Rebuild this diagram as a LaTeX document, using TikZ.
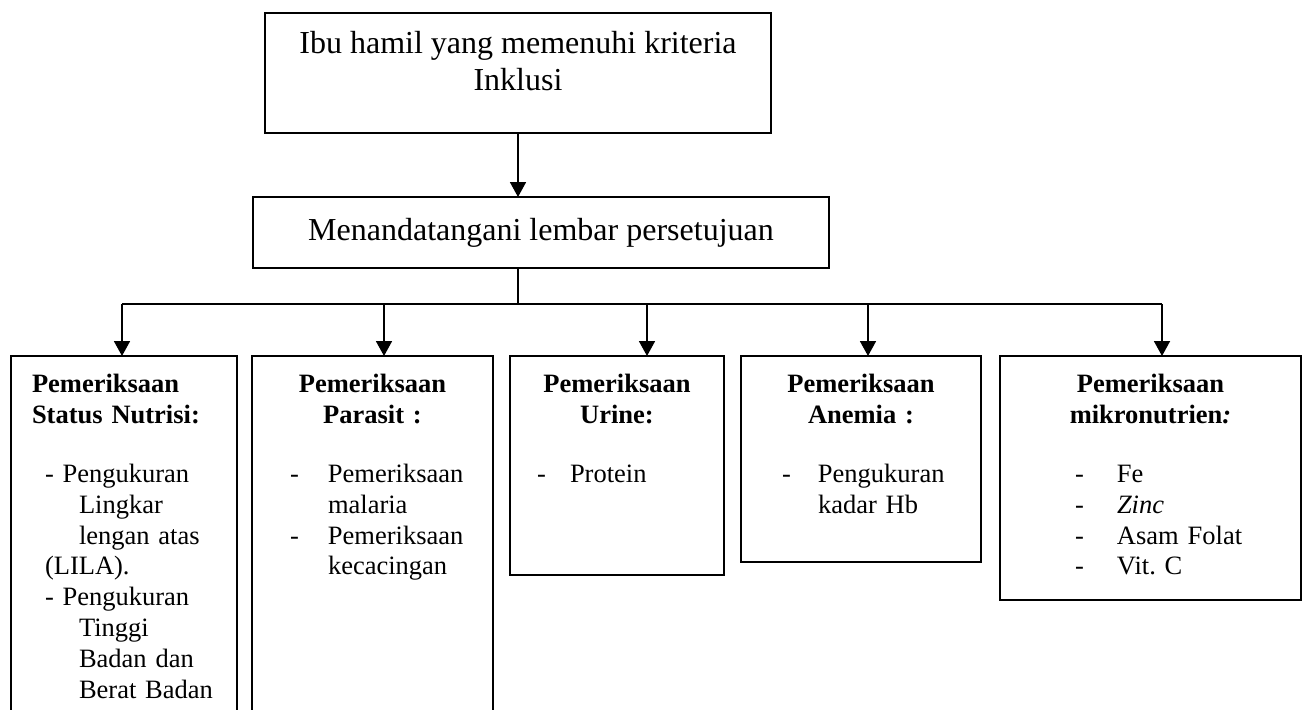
\documentclass[tikz,border=0pt]{standalone}
\usepackage{fontspec}
\setmainfont{Liberation Serif}
\usepackage{tikz}
\usetikzlibrary{arrows.meta,positioning}

\newcommand{\butir}[3]{\hspace*{#1}\makebox[#2][l]{-}#3}
\frenchspacing

\begin{document}
\begin{tikzpicture}[
    x=0.5pt, y=-0.5pt,
    kotak/.style={draw, line width=0.9pt, inner sep=0pt, outer sep=0pt, anchor=north west},
    judul/.style={font=\fontsize{16}{18.5}\selectfont, align=center, inner sep=0pt},
    isi/.style={font=\fontsize{13.25}{15.4}\selectfont, align=left, inner sep=0pt},
    garis/.style={line width=0.9pt},
    panah/.style={garis, -{Triangle[length=7.5pt,width=8pt]}}
]
    \useasboundingbox (0,0) rectangle (1306,709);
    \clip (0,0) rectangle (1306,709);

    % Atas
    \node at (265,13) [kotak, minimum width=253pt, minimum height=60pt] (ibu) {};
    \node [judul, below=9pt of ibu.north] (ibuteks) {Ibu hamil yang memenuhi kriteria\\Inklusi};
    \node at (253,197) [kotak, judul, minimum width=288pt, minimum height=35.5pt] (setuju) {Menandatangani lembar persetujuan};

    \draw [panah] (ibu.south) -- (ibu.south |- setuju.north);

    % Cabang
    \coordinate (pusat) at (518,304);
    \coordinate (cA) at (122,304);
    \coordinate (cB) at (384,304);
    \coordinate (cC) at (647,304);
    \coordinate (cD) at (868,304);
    \coordinate (cE) at (1162,304);

    \draw [garis] (setuju.south -| pusat) -- (pusat);
    \draw [garis] (cA) -- (cE);

    % Kotak pemeriksaan
    \node at (11,356) [kotak, minimum width=113pt, minimum height=200pt] (nutrisi) {};
    \node at (252,356) [kotak, minimum width=120.5pt, minimum height=200pt] (parasit) {};
    \node at (510,356) [kotak, minimum width=107pt, minimum height=109.5pt] (urine) {};
    \node at (741,356) [kotak, minimum width=120pt, minimum height=103pt] (anemia) {};
    \node at (1000,356) [kotak, minimum width=150.5pt, minimum height=122pt] (mikro) {};

    \draw [panah] (cA) -- (cA |- nutrisi.north);
    \draw [panah] (cB) -- (cB |- parasit.north);
    \draw [panah] (cC) -- (cC |- urine.north);
    \draw [panah] (cD) -- (cD |- anemia.north);
    \draw [panah] (cE) -- (cE |- mikro.north);

    % Isi
    \node [isi, text width=113pt, below=9pt of nutrisi.north] (nutrisiteks) {%
        \hspace*{10.5pt}\textbf{Pemeriksaan}\\
        \hspace*{10.5pt}\textbf{Status Nutrisi:}\\[14pt]
        \hspace*{17pt}- Pengukuran\\
        \hspace*{34pt}Lingkar\\
        \hspace*{34pt}lengan atas\\
        \hspace*{17pt}(LILA).\\
        \hspace*{17pt}- Pengukuran\\
        \hspace*{34pt}Tinggi\\
        \hspace*{34pt}Badan dan\\
        \hspace*{34pt}Berat Badan};
    \node [isi, text width=120.5pt, below=9pt of parasit.north] (parasitteks) {%
        \makebox[\linewidth]{\textbf{Pemeriksaan}}\\
        \makebox[\linewidth]{\textbf{Parasit :}}\\[14pt]
        \butir{19pt}{19pt}{Pemeriksaan}\\
        \hspace*{38pt}malaria\\
        \butir{19pt}{19pt}{Pemeriksaan}\\
        \hspace*{38pt}kecacingan};
    \node [isi, text width=107pt, below=9pt of urine.north] (urineteks) {%
        \makebox[\linewidth]{\textbf{Pemeriksaan}}\\
        \makebox[\linewidth]{\textbf{Urine:}}\\[14pt]
        \butir{13.5pt}{16.5pt}{Protein}};
    \node [isi, text width=120pt, below=9pt of anemia.north] (anemiateks) {%
        \makebox[\linewidth]{\textbf{Pemeriksaan}}\\
        \makebox[\linewidth]{\textbf{Anemia :}}\\[14pt]
        \butir{20.5pt}{18pt}{Pengukuran}\\
        \hspace*{38.5pt}kadar Hb};
    \node [isi, text width=150.5pt, below=9pt of mikro.north] (mikroteks) {%
        \makebox[\linewidth]{\textbf{Pemeriksaan}}\\
        \makebox[\linewidth]{\textbf{mikronutrien\textit{:}}}\\[14pt]
        \butir{37.5pt}{21pt}{Fe}\\
        \butir{37.5pt}{21pt}{\textit{Zinc}}\\
        \butir{37.5pt}{21pt}{Asam Folat}\\
        \butir{37.5pt}{21pt}{Vit. C}};
\end{tikzpicture}
\end{document}
